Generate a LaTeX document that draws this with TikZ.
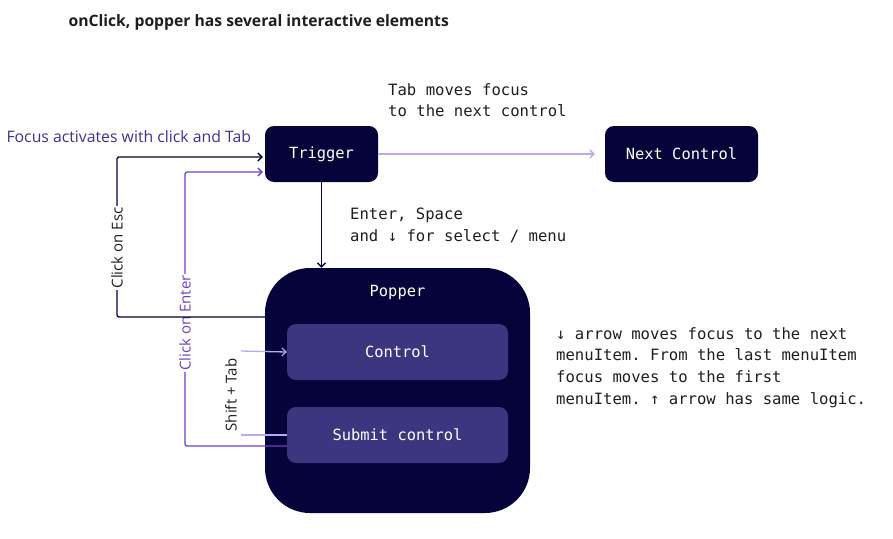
\documentclass[tikz,border=0pt]{standalone}
\usepackage{fontspec}
\setmainfont{Open Sans}
\setmonofont{DejaVu Sans Mono}
\usepackage{tikz}
\usetikzlibrary{arrows.meta, positioning}
\definecolor{popnavy}{HTML}{05033A}
\definecolor{ctrlpurple}{HTML}{3C3580}
\definecolor{tablilac}{HTML}{B6AAF2}
\definecolor{enterviolet}{HTML}{6E42C1}
\definecolor{focusindigo}{HTML}{3D3390}
\definecolor{inkgray}{HTML}{1E1E1E}

\begin{document}
\begin{tikzpicture}[x=1pt, y=-1pt,
    navybox/.style={fill=popnavy, rounded corners=9pt, text=white,
        font=\ttfamily\fontsize{15.4}{18}\selectfont, minimum height=56pt, inner sep=0pt},
    ctrlbox/.style={fill=ctrlpurple, rounded corners=9pt, text=white,
        font=\ttfamily\fontsize{15.4}{18}\selectfont, minimum width=221pt, minimum height=56pt},
    monotext/.style={font=\ttfamily\fontsize{15.6}{21.7}\selectfont, text=inkgray,
        align=left, anchor=north west, inner sep=0pt},
    sidelabel/.style={font=\fontsize{15}{17}\selectfont, rotate=90, fill=white, inner sep=1.5pt},
    arr/.style={-{Straight Barb[length=4pt, width=8pt]}}
]
    \useasboundingbox (0,0) rectangle (893,538);

    % Title
    \node[anchor=west, font=\bfseries\fontsize{15.7}{18}\selectfont, text=inkgray] (title) at (65,22)
        {onClick, popper has several interactive elements};

    % Trigger and next control
    \node[navybox, minimum width=113pt] (trigger) at (321.5,154) {Trigger};
    \node[navybox, minimum width=153pt] (next) at (681.5,154) {Next Control};

    % Popper with its controls
    \node[fill=popnavy, rounded corners=45pt, minimum width=265pt, minimum height=245pt] (popper) at (397.5,390.5) {};
    \node[text=white, font=\ttfamily\fontsize{15.4}{18}\selectfont] (poppertitle) at (397.5,292) {Popper};
    \node[ctrlbox] (control) at (397.5,352) {Control};
    \node[ctrlbox] (submit) at (397.5,435) {Submit control};

    % Tab to next control
    \draw[arr, tablilac, line width=1.3pt] (trigger.east) -- ([xshift=-10pt]next.west);
    \node[monotext] (tabnote) at (388,83) {Tab moves focus\\to the next control};

    % Enter / Space opens popper
    \draw[arr, popnavy, line width=1.3pt] (trigger.south) -- (trigger.south |- popper.north);
    \node[monotext] (enternote) at (350,208) {Enter, Space\\and ↓ for select / menu};

    % Focus back to trigger
    \node[anchor=west, font=\fontsize{15.8}{18}\selectfont, text=focusindigo] (focusnote) at (3,137)
        {Focus activates with click and Tab};

    \coordinate (enterbend) at (185,172);
    \draw[arr, enterviolet, line width=1.3pt, rounded corners=2pt]
        ([yshift=-11pt]submit.west) -| (enterbend) -- ([yshift=-18pt, xshift=-2pt]trigger.west);
    \node[sidelabel, text=enterviolet] (enterlabel) at (185,323) {Click on Enter};

    \coordinate (escbend) at (117,157);
    \draw[arr, popnavy, line width=1.3pt, rounded corners=2pt]
        ([yshift=73.5pt]popper.west) -| (escbend) -- ([yshift=-3pt, xshift=-2pt]trigger.west);
    \node[sidelabel, text=inkgray] (esclabel) at (117,248) {Click on Esc};

    % Shift + Tab inside popper
    \coordinate (shiftin) at (241,351);
    \coordinate (shiftout) at (241,435);
    \draw[tablilac, line width=1.3pt] (submit.west) -- (shiftout);
    \draw[arr, tablilac, line width=1.3pt] (shiftin) -- (control.west);
    \node[font=\fontsize{15}{17}\selectfont, rotate=90, text=inkgray] (shiftlabel) at (231,395) {Shift + Tab};

    % Arrow keys note
    \node[monotext] (arrownote) at (556,327)
        {↓ arrow moves focus to the next\\menuItem. From the last menuItem\\focus moves to the first\\menuItem. ↑ arrow has same logic.};
\end{tikzpicture}
\end{document}
